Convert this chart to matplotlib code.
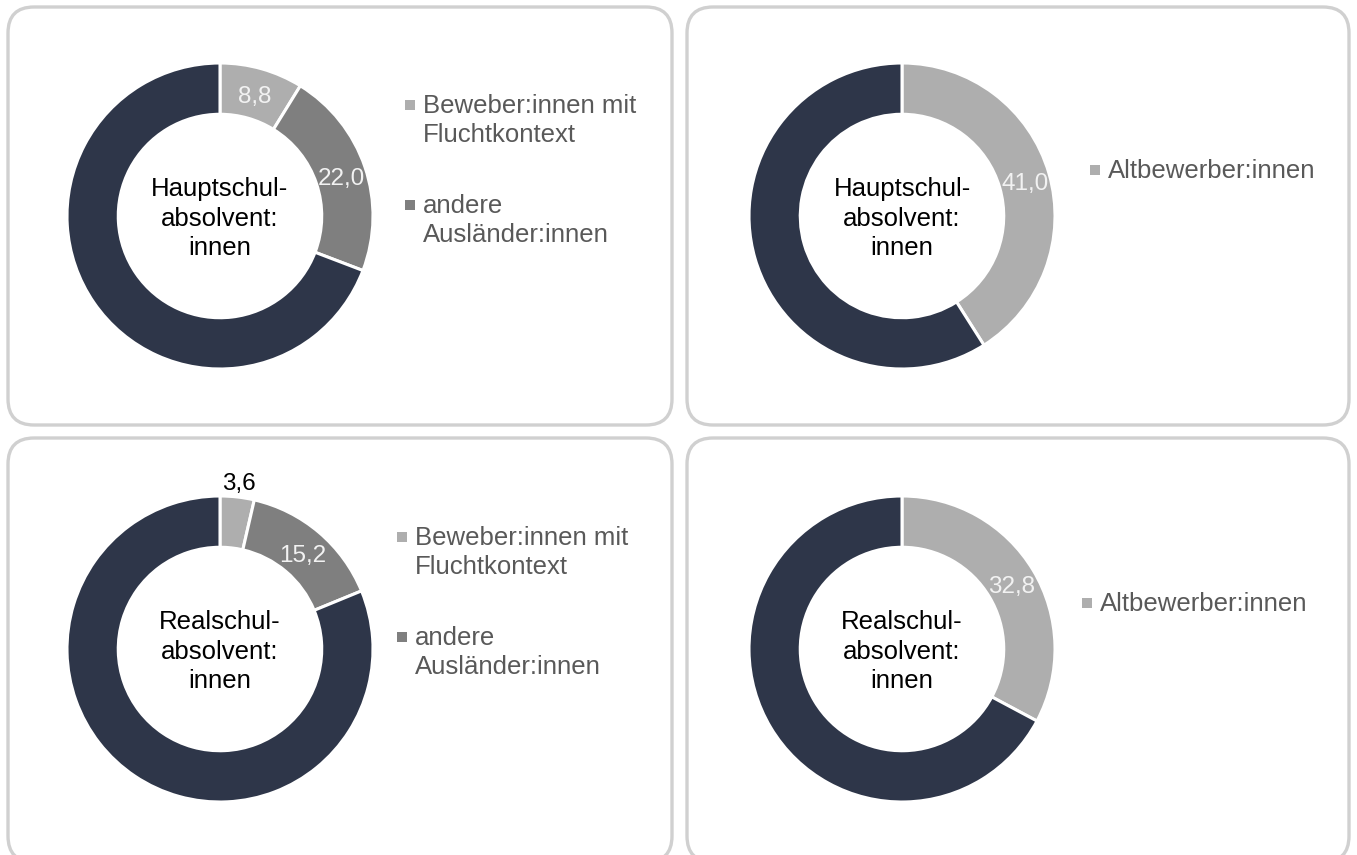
import numpy as np
import matplotlib.pyplot as plt
from matplotlib.patches import FancyBboxPatch, Rectangle

plt.rcParams['font.family'] = ['Liberation Sans', 'DejaVu Sans']

W, H = 1357, 855

# data
light = '#AEAEAE'
mid = '#7F7F7F'
navy = '#2E3649'

flucht_labels = ['Beweber:innen mit\nFluchtkontext', 'andere\nAusländer:innen']
alt_labels = ['Altbewerber:innen']

haupt_flucht = [8.8, 22.0, 69.2]
real_flucht = [3.6, 15.2, 81.2]
haupt_alt = [41.0, 59.0]
real_alt = [32.8, 67.2]

haupt_center = 'Hauptschul-\nabsolvent:\ninnen'
real_center = 'Realschul-\nabsolvent:\ninnen'

text_grey = '#595959'
LS = 1.28   # line spacing

fig = plt.figure(figsize=(W / 100, H / 100), dpi=100)
fig.patch.set_facecolor('white')


def panel_box(x0, y0, x1, y1):
    # pixel coords from top-left of picture
    box = FancyBboxPatch((x0 / 100, (H - y1) / 100), (x1 - x0) / 100, (y1 - y0) / 100,
                         boxstyle='round,pad=0,rounding_size=0.26',
                         transform=fig.dpi_scale_trans, facecolor='white',
                         edgecolor='#D0D0D0', linewidth=2.4, zorder=0)
    fig.add_artist(box)


def donut(cx, cy, values, colors, center_text, outside_first=False):
    R = 153
    S = 1.35 * R
    ax = fig.add_axes([(cx - S) / W, 1 - (cy + S) / H, 2 * S / W, 2 * S / H])
    wedges, _ = ax.pie(values, colors=colors, startangle=90, counterclock=False, radius=1,
                       wedgeprops=dict(width=0.335, edgecolor='white', linewidth=2.2))
    ax.set_xlim(-1.35, 1.35)
    ax.set_ylim(-1.35, 1.35)
    ax.set_aspect('equal')
    ax.axis('off')
    for i, (w, v) in enumerate(zip(wedges[:-1], values[:-1])):
        ang = np.deg2rad((w.theta1 + w.theta2) / 2)
        txt = f'{v:.1f}'.replace('.', ',')
        if outside_first and i == 0:
            r, col = 1.11, 'black'
        else:
            r, col = 0.835, '#F2F2F2'
        ax.text(r * np.cos(ang), r * np.sin(ang) - 4 / R, txt, ha='center', va='center',
                fontsize=17.5, color=col)
    # last line baseline about 39 px below centre
    ax.text(0, -39 / R, center_text, ha='center', va='baseline', fontsize=18.5,
            color='black', linespacing=LS)
    return ax


def legend(x, baselines, labels, colors):
    step = 29
    for yb, lab, col in zip(baselines, labels, colors):
        n = lab.count('\n')
        fig.text(x / W, 1 - (yb + n * step) / H, lab, ha='left', va='baseline',
                 fontsize=18.5, color=text_grey, linespacing=LS)
        sq = 10
        fig.add_artist(Rectangle(((x - 18) / 100, (H - yb + 3) / 100), sq / 100, sq / 100,
                                 transform=fig.dpi_scale_trans, facecolor=col,
                                 edgecolor='none'))


panel_box(8, 7, 672, 425)
panel_box(687, 7, 1349, 425)
panel_box(8, 438, 672, 862)
panel_box(687, 438, 1349, 862)

donut(220, 216, haupt_flucht, [light, mid, navy], haupt_center)
donut(902, 216, haupt_alt, [light, navy], haupt_center)
donut(220, 649, real_flucht, [light, mid, navy], real_center, outside_first=True)
donut(902, 649, real_alt, [light, navy], real_center)

legend(423, [113, 213], flucht_labels, [light, mid])
legend(1108, [178], alt_labels, [light])
legend(415, [545, 645], flucht_labels, [light, mid])
legend(1100, [611], alt_labels, [light])

fig.savefig('out.png', dpi=100, facecolor='white')
